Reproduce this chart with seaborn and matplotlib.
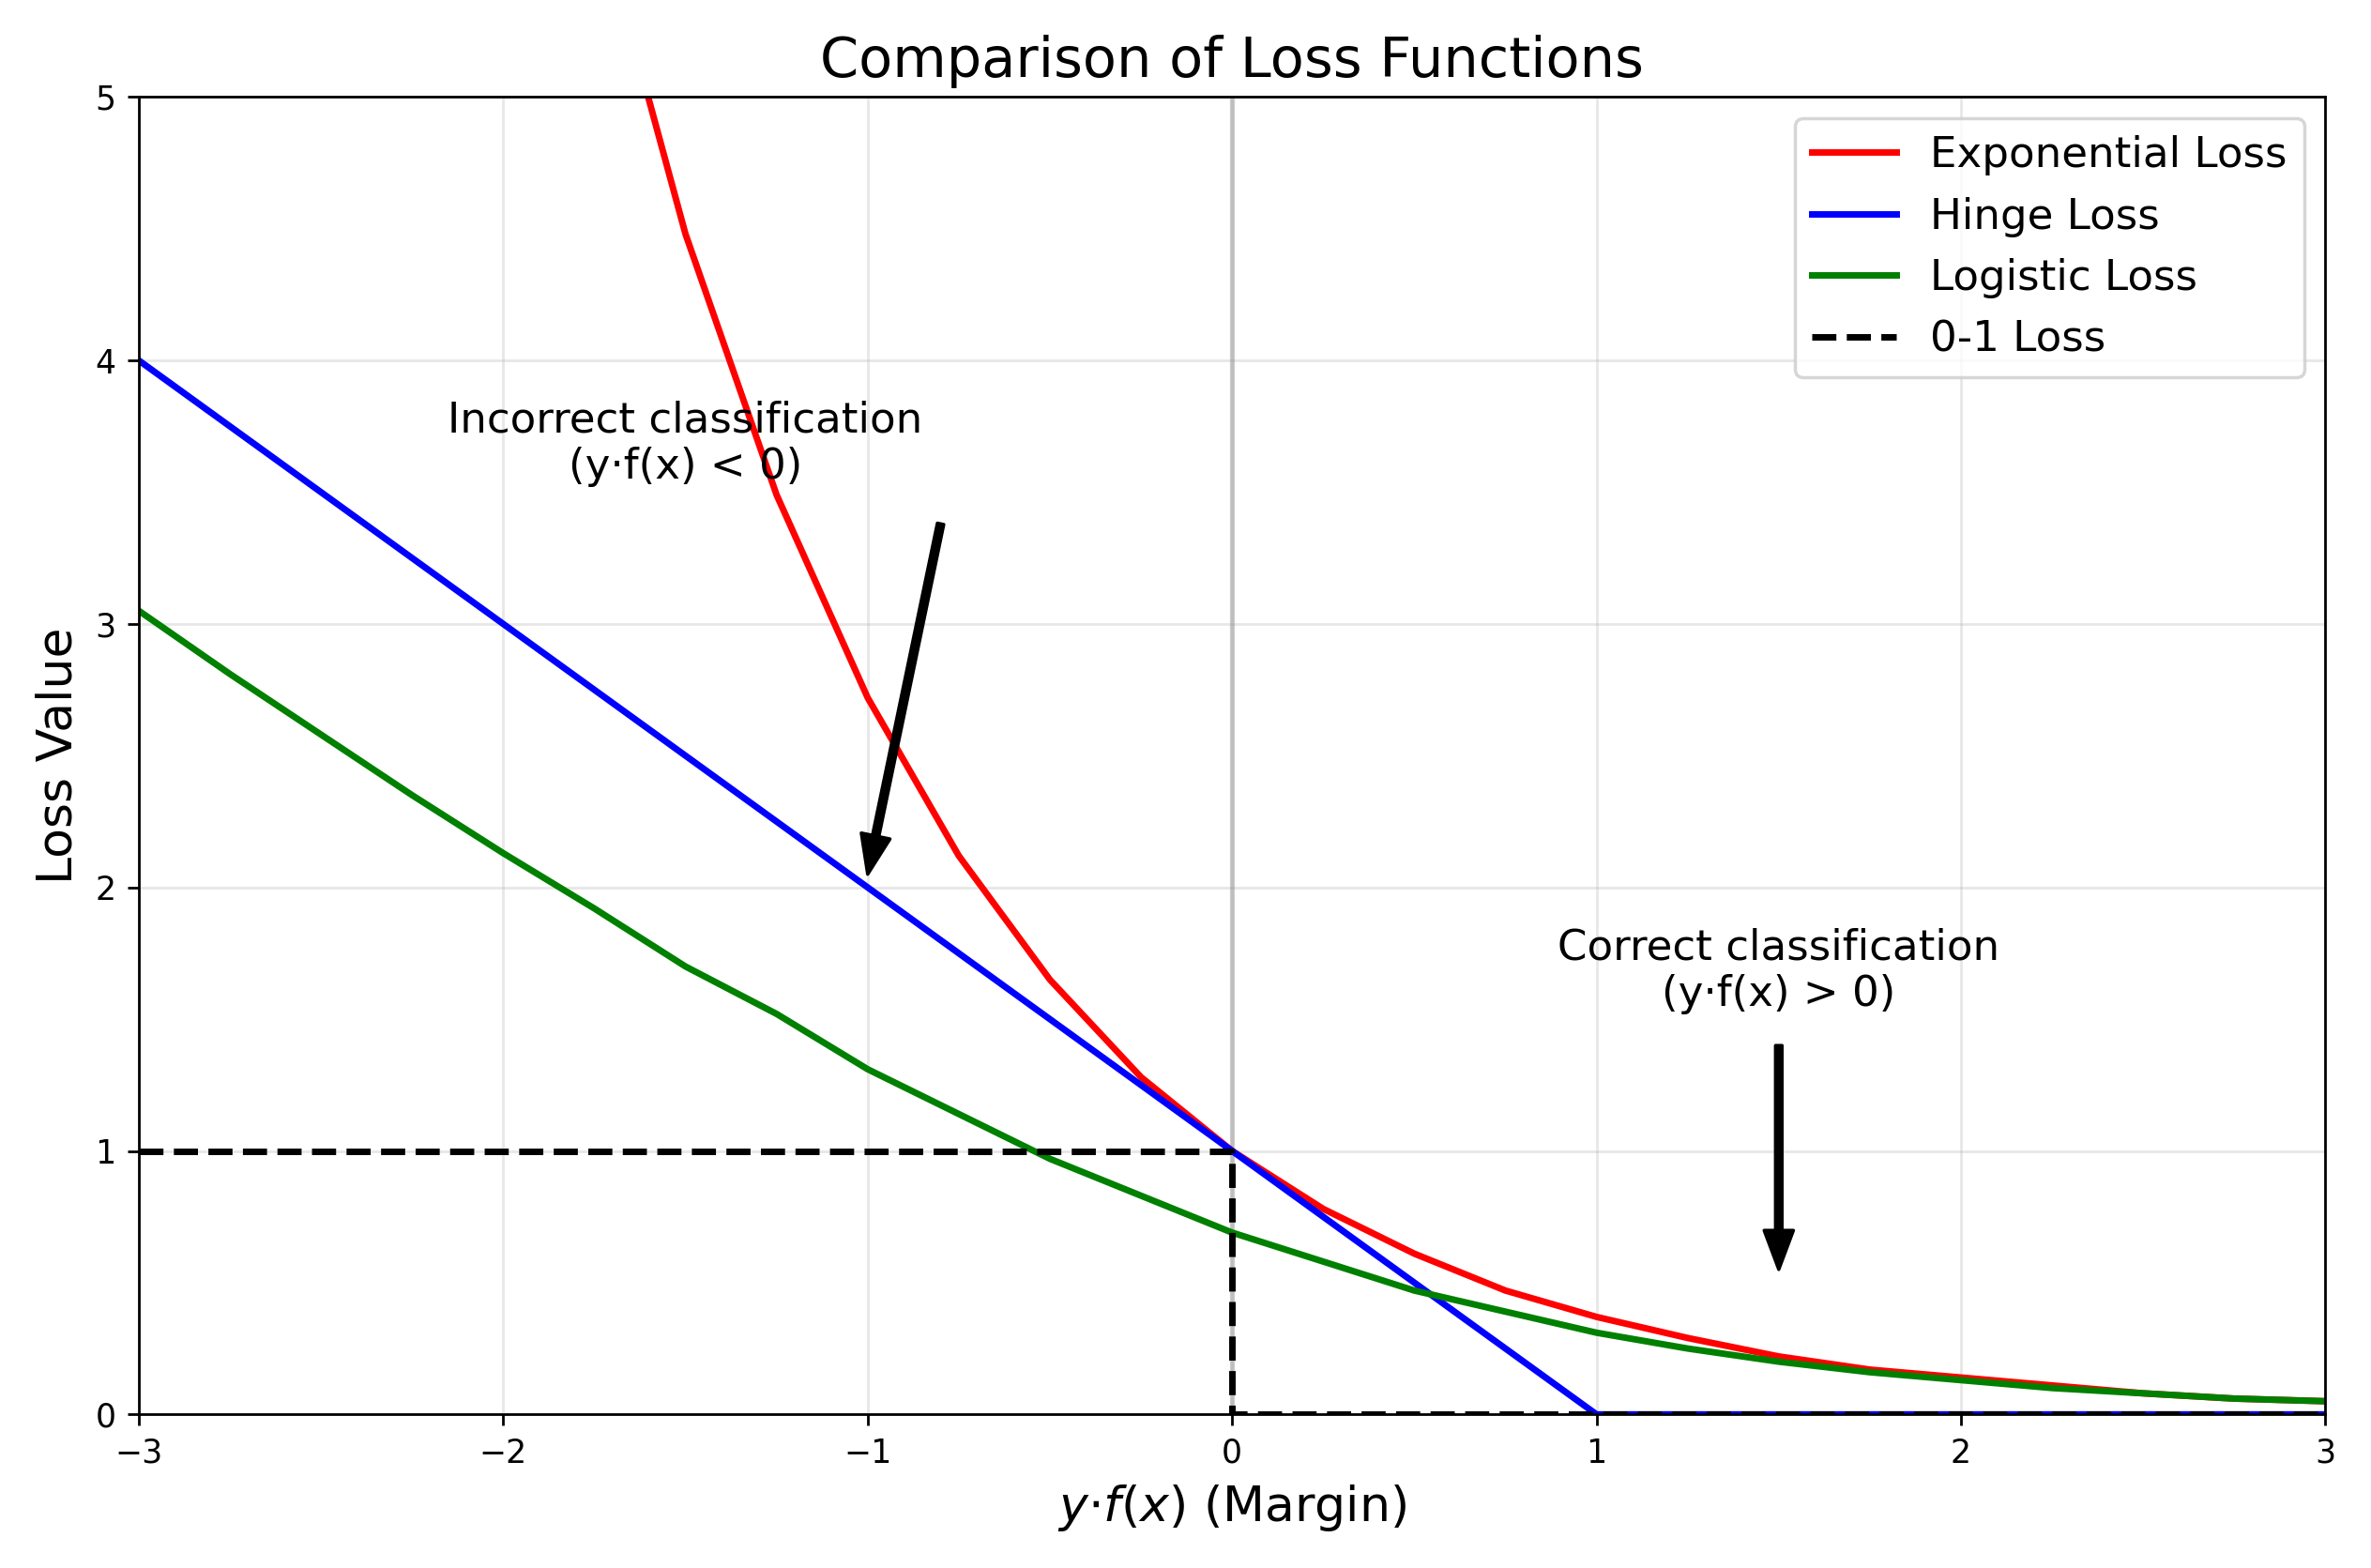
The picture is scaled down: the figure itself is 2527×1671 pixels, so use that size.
import numpy as np
import pandas as pd
import matplotlib
matplotlib.use('Agg')
import matplotlib.pyplot as plt
import seaborn as sns

margin = [-3, -2.75, -2.5, -2.25, -2, -1.75, -1.5, -1.25, -1, -0.75, -0.5, -0.25, 0,
          0.25, 0.5, 0.75, 1, 1.25, 1.5, 1.75, 2, 2.25, 2.5, 2.75, 3]
exp_loss = [20.09, 15.64, 12.18, 9.49, 7.39, 5.75, 4.48, 3.49, 2.72, 2.12, 1.65, 1.28, 1.00,
            0.78, 0.61, 0.47, 0.37, 0.29, 0.22, 0.17, 0.14, 0.11, 0.08, 0.06, 0.05]
hinge_loss = [4, 3.75, 3.5, 3.25, 3, 2.75, 2.5, 2.25, 2, 1.75, 1.5, 1.25, 1,
              0.75, 0.5, 0.25, 0, 0, 0, 0, 0, 0, 0, 0, 0]
logistic_loss = [3.05, 2.81, 2.58, 2.35, 2.13, 1.92, 1.70, 1.52, 1.31, 1.14, 0.97, 0.83, 0.69,
                 0.58, 0.47, 0.39, 0.31, 0.25, 0.20, 0.16, 0.13, 0.10, 0.08, 0.06, 0.05]
zero_one_x = [-3, 0, 0, 3]
zero_one_y = [1, 1, 0, 0]

fig, ax = plt.subplots(figsize=(10.108, 6.684), dpi=250)

ax.axvline(0, color='gray', alpha=0.4, linewidth=1.5)
sns.lineplot(x=margin, y=exp_loss, color='red', linewidth=2, label='Exponential Loss', ax=ax)
sns.lineplot(x=margin, y=hinge_loss, color='blue', linewidth=2, label='Hinge Loss', ax=ax)
sns.lineplot(x=margin, y=logistic_loss, color='green', linewidth=2, label='Logistic Loss', ax=ax)
ax.plot(zero_one_x, zero_one_y, 'k--', linewidth=2, label='0-1 Loss')

ax.set_xlim(-3, 3)
ax.set_ylim(0, 5)
ax.grid(alpha=0.3)
ax.set_xlabel(r'$y{\cdot}f(x)$ (Margin)', fontsize=15)
ax.set_ylabel('Loss Value', fontsize=15)
ax.set_title('Comparison of Loss Functions', fontsize=17)
ax.legend(fontsize=13, loc='upper right')

ax.text(-1.5, 3.55, 'Incorrect classification\n(y·f(x) < 0)', ha='center', fontsize=13)
ax.annotate('', xy=(-1, 2.05), xytext=(-0.8, 3.38),
            arrowprops=dict(facecolor='black', width=2, headwidth=9, headlength=12))
ax.text(1.5, 1.55, 'Correct classification\n(y·f(x) > 0)', ha='center', fontsize=13)
ax.annotate('', xy=(1.5, 0.55), xytext=(1.5, 1.4),
            arrowprops=dict(facecolor='black', width=2, headwidth=9, headlength=12))

plt.tight_layout()
plt.savefig('out.png')
